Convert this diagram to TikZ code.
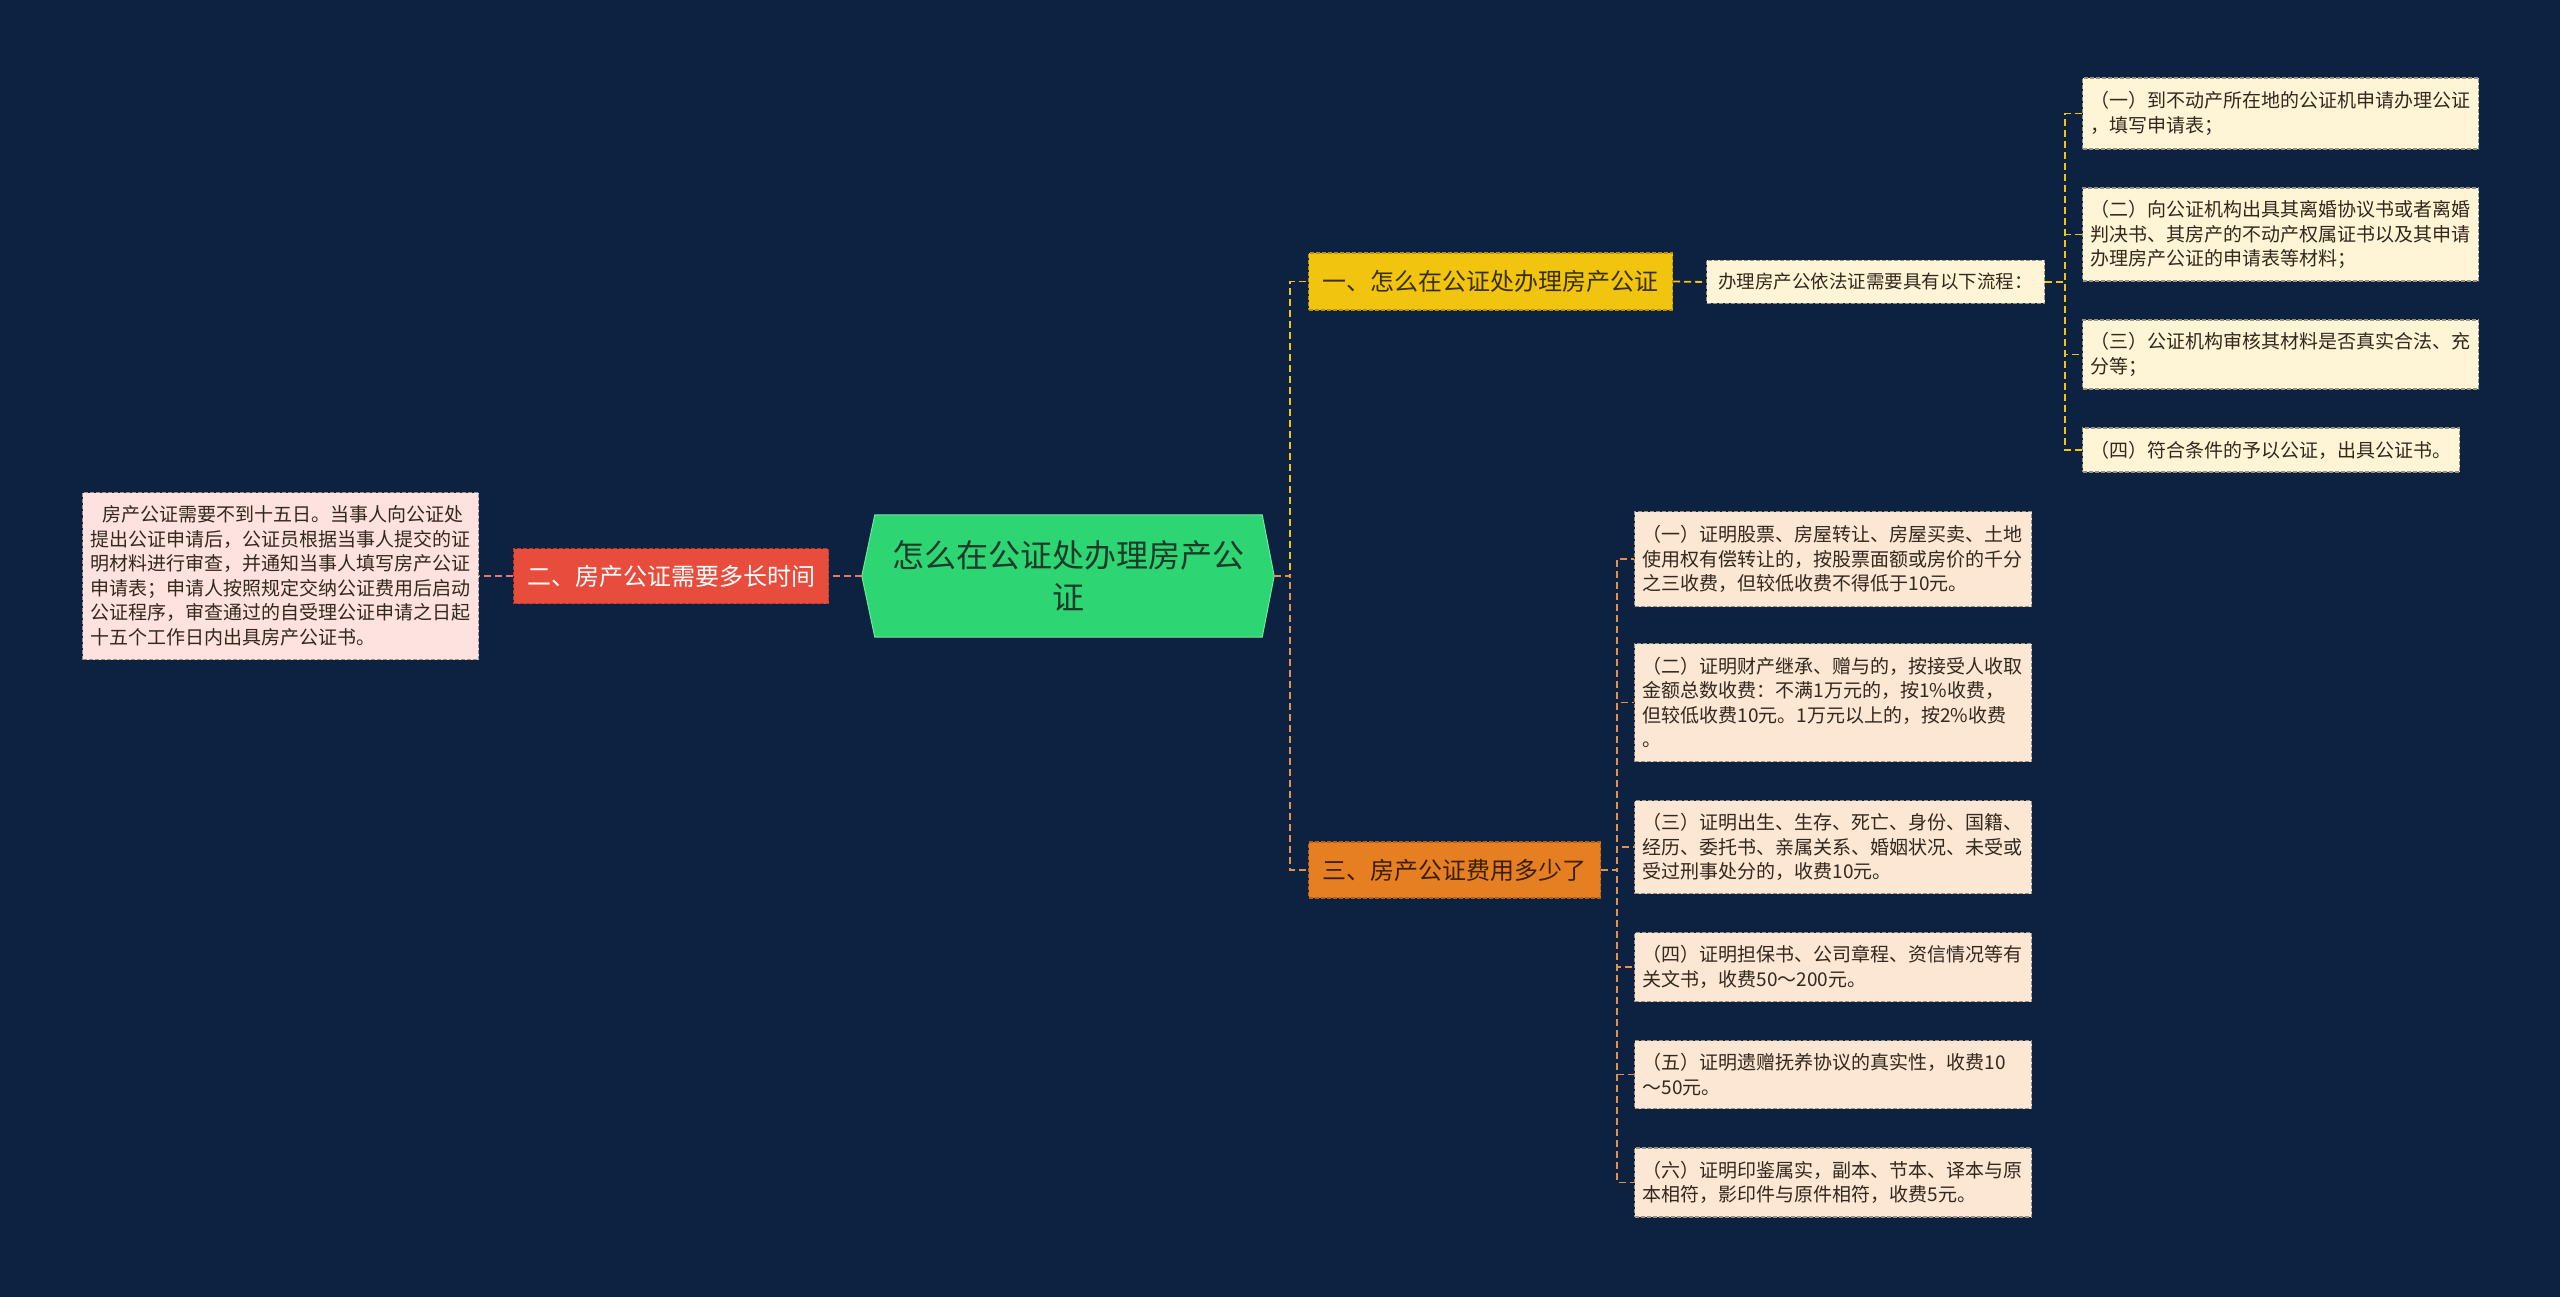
\documentclass[tikz,border=0pt]{standalone}
\usepackage{fontspec}
\setmainfont{Noto Sans CJK SC}
\usetikzlibrary{calc,backgrounds}
\definecolor{bg}{HTML}{0C2240}
\definecolor{rootgreen}{HTML}{2ED573}
\definecolor{rootline}{HTML}{6EE89A}
\definecolor{roottext}{HTML}{1B3A28}
\definecolor{redfill}{HTML}{E74C3C}
\definecolor{redline}{HTML}{B8382B}
\definecolor{yelfill}{HTML}{F1C40F}
\definecolor{yelline}{HTML}{B8920A}
\definecolor{yeltext}{HTML}{3A2F00}
\definecolor{orafill}{HTML}{E67E22}
\definecolor{oraline}{HTML}{B0601A}
\definecolor{oratext}{HTML}{3A1F05}
\definecolor{creamfill}{HTML}{FEF5D6}
\definecolor{peachfill}{HTML}{FCE6D4}
\definecolor{pinkfill}{HTML}{FDE2E0}
\definecolor{leafline}{HTML}{9A927E}
\definecolor{leaftext}{HTML}{33281C}
\definecolor{ycon}{HTML}{F1C40F}
\definecolor{ocon}{HTML}{E0924E}
\definecolor{rcon}{HTML}{E67A6A}
\tikzset{
  box/.style={rectangle, anchor=west, inner xsep=8pt, inner ysep=3pt, align=left,
    line width=1.2pt, dash pattern=on 4pt off 2pt},
  leafbox/.style={box, draw=leafline, text=leaftext, font=\fontsize{19}{24.5}\selectfont},
  pinkleaf/.style={leafbox, fill=pinkfill},
  creamleaf/.style={leafbox, fill=creamfill},
  peachleaf/.style={leafbox, fill=peachfill},
  branchbox/.style={box, align=center, font=\fontsize{24}{28}\selectfont},
  conn/.style={line width=1.8pt, dash pattern=on 7pt off 4pt},
}
\begin{document}
\begin{tikzpicture}[x=1pt,y=-1pt]
\useasboundingbox (0,0) rectangle (2560,1297);

% root
\node[rectangle, minimum width=412pt, minimum height=122pt, inner sep=0pt, align=center,
  text=roottext, font=\fontsize{32}{42}\selectfont] (root) at (1068,576) {怎么在公证处办理房产公\\证};

% left branch
\node[branchbox, fill=redfill, draw=redline, text=white, minimum width=315pt, minimum height=55pt] (b2) at (513,576) {二、房产公证需要多长时间};
\node[pinkleaf, text width=380pt, minimum height=167pt] (l1) at (82,576) {\hspace*{0.6em}房产公证需要不到十五日。当事人向公证处\\提出公证申请后，公证员根据当事人提交的证\\明材料进行审查，并通知当事人填写房产公证\\申请表；申请人按照规定交纳公证费用后启动\\公证程序，审查通过的自受理公证申请之日起\\十五个工作日内出具房产公证书。};

% branch one
\node[branchbox, fill=yelfill, draw=yelline, text=yeltext, minimum width=364pt, minimum height=57pt] (b1) at (1308,281.5) {一、怎么在公证处办理房产公证};
\node[creamleaf, minimum width=338pt, minimum height=43pt, font=\fontsize{18.5}{22}\selectfont] (m1) at (1706,282) {办理房产公依法证需要具有以下流程：};
\node[creamleaf, text width=380pt, minimum height=71pt] (r1) at (2082,113.5) {（一）到不动产所在地的公证机申请办理公证\\，填写申请表；};
\node[creamleaf, text width=380pt, minimum height=93pt] (r2) at (2082,234.5) {（二）向公证机构出具其离婚协议书或者离婚\\判决书、其房产的不动产权属证书以及其申请\\办理房产公证的申请表等材料；};
\node[creamleaf, text width=380pt, minimum height=69pt] (r3) at (2082,354.5) {（三）公证机构审核其材料是否真实合法、充\\分等；};
\node[creamleaf, text width=361pt, minimum height=44pt] (r4) at (2082,450) {（四）符合条件的予以公证，出具公证书。};

% branch three
\node[branchbox, fill=orafill, draw=oraline, text=oratext, minimum width=292pt, minimum height=56pt] (b3) at (1308,870) {三、房产公证费用多少了};
\node[peachleaf, text width=381pt, minimum height=95pt] (p1) at (1634,559) {（一）证明股票、房屋转让、房屋买卖、土地\\使用权有偿转让的，按股票面额或房价的千分\\之三收费，但较低收费不得低于10元。};
\node[peachleaf, text width=381pt, minimum height=118pt] (p2) at (1634,702.5) {（二）证明财产继承、赠与的，按接受人收取\\金额总数收费：不满1万元的，按1\%收费，\\但较低收费10元。1万元以上的，按2\%收费\\。};
\node[peachleaf, text width=381pt, minimum height=93pt] (p3) at (1634,847) {（三）证明出生、生存、死亡、身份、国籍、\\经历、委托书、亲属关系、婚姻状况、未受或\\受过刑事处分的，收费10元。};
\node[peachleaf, text width=381pt, minimum height=69pt] (p4) at (1634,967) {（四）证明担保书、公司章程、资信情况等有\\关文书，收费50～200元。};
\node[peachleaf, text width=381pt, minimum height=68pt] (p5) at (1634,1074.5) {（五）证明遗赠抚养协议的真实性，收费10\\～50元。};
\node[peachleaf, text width=381pt, minimum height=69pt] (p6) at (1634,1182.5) {（六）证明印鉴属实，副本、节本、译本与原\\本相符，影印件与原件相符，收费5元。};

\begin{scope}[on background layer]
  \fill[bg] (0,0) rectangle (2560,1297);
  \filldraw[fill=rootgreen, draw=rootline, line width=1pt]
    ($(root.north west)+(13,0)$) -- ($(root.north east)+(-12,0)$) -- (root.east)
    -- ($(root.south east)+(-12,0)$) -- ($(root.south west)+(13,0)$) -- (root.west) -- cycle;
  % connectors
  \draw[conn, rcon, line width=1.5pt] (root.west) -- (b2.east);
  \draw[conn, rcon, line width=1.5pt] (b2.west) -- (l1.east);
  \draw[conn, ycon] (root.east) -- ++(16,0) |- (b1.west);
  \draw[conn, ocon] (root.east) -- ++(16,0) |- (b3.west);
  \draw[conn, ycon] (b1.east) -- (m1.west);
  \foreach \n in {r1,r2,r3,r4}
    \draw[conn, ycon] (m1.east) -- ++(20,0) |- (\n.west);
  \foreach \n in {p1,p2,p3,p4,p5,p6}
    \draw[conn, ocon] (b3.east) -- ++(16,0) |- (\n.west);
\end{scope}
\end{tikzpicture}
\end{document}
